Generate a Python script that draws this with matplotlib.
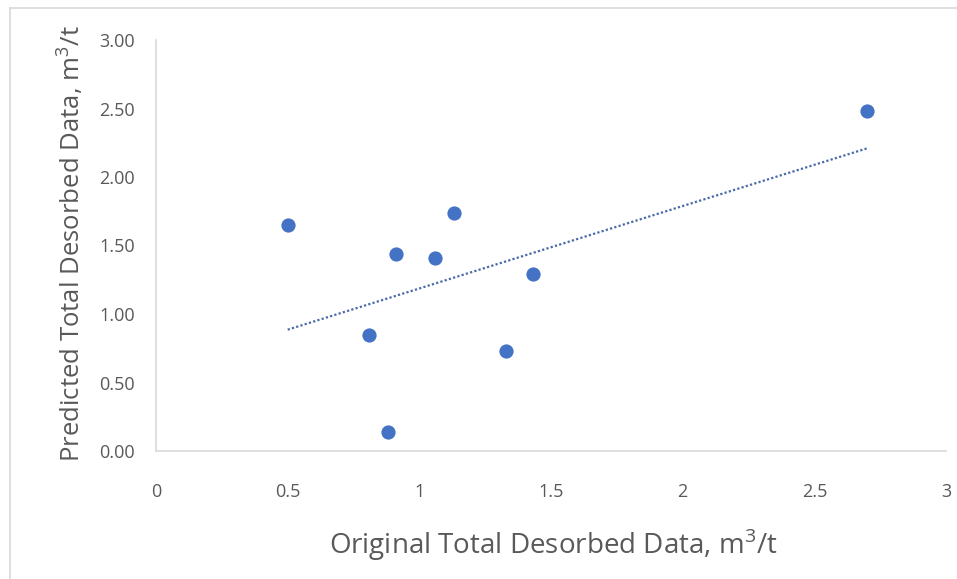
import matplotlib
matplotlib.use("Agg")
import matplotlib.pyplot as plt
import numpy as np

# measured (original) vs predicted total desorbed gas, m3/t
original = [0.50, 0.81, 0.91, 0.88, 1.06, 1.13, 1.33, 1.43, 2.70]
predicted = [1.65, 0.85, 1.44, 0.14, 1.41, 1.74, 0.73, 1.29, 2.48]

x_ticks = [0, 0.5, 1, 1.5, 2, 2.5, 3]
y_ticks = [0.0, 0.5, 1.0, 1.5, 2.0, 2.5, 3.0]

plt.rcParams['font.family'] = ['Open Sans', 'DejaVu Sans']
plt.rcParams['mathtext.fontset'] = 'custom'
plt.rcParams['mathtext.rm'] = 'Open Sans'

grey = '#595959'
blue = '#4472C4'

fig = plt.figure(figsize=(9.57, 5.79), dpi=100)
ax = fig.add_axes([156/957, 128/579, 790/957, 411/579])

ax.scatter(original, predicted, s=105, color=blue, zorder=3, linewidths=0)

# linear trendline over the data range
slope, icpt = np.polyfit(original, predicted, 1)
xs = np.array([min(original), max(original)])
ax.plot(xs, slope*xs + icpt, linestyle=(0, (1, 1)), color='#4a6aa8', lw=1.6, zorder=2)

ax.set_xlim(0, 3)
ax.set_ylim(0, 3)
ax.set_xticks(x_ticks)
ax.set_xticklabels(['%g' % v for v in x_ticks])
ax.set_yticks(y_ticks)
ax.set_yticklabels(['%.2f' % v for v in y_ticks])
ax.tick_params(length=0, labelsize=13, colors=grey)
ax.tick_params(axis='x', pad=23)
ax.tick_params(axis='y', pad=15)

for s in ['top', 'right']:
    ax.spines[s].set_visible(False)
for s in ['left', 'bottom']:
    ax.spines[s].set_color('#d9d9d9')
    ax.spines[s].set_linewidth(1.2)

fig.text(553/957, 1 - 545/579, r'Original Total Desorbed Data, m$^{3}$/t',
         ha='center', va='center', fontsize=20, color=grey)
fig.text(70/957, 1 - 244/579, r'Predicted Total Desorbed Data, m$^{3}$/t',
         ha='center', va='center', rotation=90, fontsize=18.5, color=grey)

# light frame on top and left edges
fig.add_artist(plt.Line2D([10/957, 1], [1 - 8/579]*2, color='#d9d9d9', lw=1.2))
fig.add_artist(plt.Line2D([10/957]*2, [0, 1 - 8/579], color='#d9d9d9', lw=1.2))

fig.savefig('out.png', dpi=100)
